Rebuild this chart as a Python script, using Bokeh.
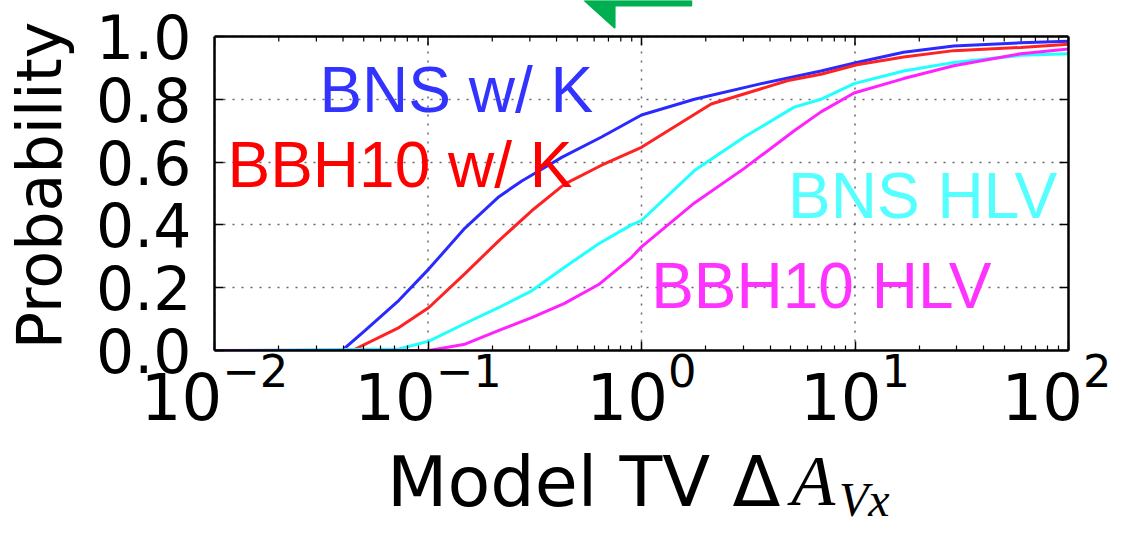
from bokeh.plotting import figure
from bokeh.layouts import column
from bokeh.models import (FixedTicker, LinearAxis, Label, Span, NumeralTickFormatter)
from bokeh.embed import file_html
from bokeh.resources import INLINE

# ---------------- data ----------------
bns_k_x = [0.01, 0.0396, 0.0508, 0.0731, 0.101, 0.149, 0.215, 0.275, 0.367, 0.423,
           0.65, 1.0, 1.77, 3.64, 6.93, 10.2, 16.9, 29.0, 59.7, 100]
bns_k_y = [0, 0, 0.064, 0.16, 0.26, 0.39, 0.49, 0.54, 0.59, 0.615,
           0.68, 0.75, 0.80, 0.85, 0.89, 0.917, 0.95, 0.97, 0.98, 0.985]

bbh_k_x = [0.01, 0.0442, 0.0731, 0.101, 0.149, 0.215, 0.306, 0.436, 0.65, 1.0,
           2.12, 4.86, 6.93, 10.2, 16.9, 29.0, 59.7, 100]
bbh_k_y = [0, 0, 0.073, 0.137, 0.245, 0.35, 0.445, 0.53, 0.59, 0.647,
           0.785, 0.86, 0.88, 0.91, 0.935, 0.955, 0.965, 0.975]

bns_hlv_x = [0.01, 0.0731, 0.101, 0.149, 0.215, 0.306, 0.436, 0.63, 0.897, 1.0,
             1.77, 3.03, 5.19, 6.93, 9.9, 16.9, 29.0, 59.7, 100]
bns_hlv_y = [0, 0.005, 0.03, 0.086, 0.137, 0.19, 0.265, 0.34, 0.40, 0.414,
             0.573, 0.68, 0.775, 0.80, 0.85, 0.89, 0.917, 0.94, 0.945]

bbh_hlv_x = [0.01, 0.101, 0.149, 0.215, 0.306, 0.436, 0.63, 0.897, 1.0,
             1.77, 3.03, 5.19, 6.93, 9.9, 16.9, 29.0, 59.7, 100]
bbh_hlv_y = [0, 0, 0.02, 0.064, 0.105, 0.15, 0.21, 0.296, 0.33,
             0.47, 0.58, 0.70, 0.76, 0.82, 0.866, 0.907, 0.945, 0.96]

series_names = ["BNS w/ K", "BBH10 w/ K", "BNS HLV", "BBH10 HLV"]
x_ticks = [0.01, 0.1, 1, 10, 100]
x_minor_ticks = [m * 10.0 ** e for e in range(-2, 2) for m in range(2, 10)]
y_ticks = [0.0, 0.2, 0.4, 0.6, 0.8, 1.0]
x_label = "Model TV \u0394"
x_label_var = "A"
x_label_sub = "Vx"
y_label = "Probability"

# green arrow fragment above the chart (decoration), x in data units, y above 1.0
arrow_x = [0.542, 0.748, 0.748, 1.71, 1.71]
arrow_y = [1.1146, 1.0287, 1.0987, 1.0987, 1.1146]

# ---------------- layout constants ----------------
W, H = 1111, 517
FL, FR = 212, 1068
MAIN_H = 440          # main chart canvas y 0 .. 440
BOT_H = H - MAIN_H    # strip with the x-axis label
FB = 350              # frame bottom (y = 0); y = 1 sits at canvas y 36
PX_PER_UNIT = 314.0
Y_TOP = FB / PX_PER_UNIT

p = figure(width=W, height=MAIN_H, x_axis_type="log", x_range=(0.01, 100),
           y_range=(0, Y_TOP), output_backend="svg", toolbar_location=None,
           min_border_left=FL, min_border_right=W - FR,
           min_border_top=0, min_border_bottom=MAIN_H - FB)
p.background_fill_color = "white"
p.border_fill_color = "white"
p.outline_line_color = None

xtk = FixedTicker(ticks=x_ticks, minor_ticks=x_minor_ticks)
ytk = FixedTicker(ticks=y_ticks)

p.xaxis[0].ticker = xtk
p.yaxis[0].ticker = ytk
p.yaxis[0].formatter = NumeralTickFormatter(format="0.0")

def style_axis(ax, labels=True, size="60px"):
    ax.axis_line_width = 2.5
    ax.axis_line_color = "black"
    ax.major_tick_in = 9
    ax.major_tick_out = 0
    ax.minor_tick_in = 5
    ax.minor_tick_out = 0
    ax.major_tick_line_width = 1.5
    ax.minor_tick_line_width = 1.2
    ax.major_tick_line_color = "black"
    ax.minor_tick_line_color = "black"
    if labels:
        ax.major_label_text_font = "DejaVu Sans"
        ax.major_label_text_font_size = size
        ax.major_label_text_color = "black"
    else:
        ax.major_label_text_font_size = "6px"
        ax.major_label_text_alpha = 0
        ax.major_label_standoff = 0

style_axis(p.xaxis[0], True, "64px")
p.xaxis[0].major_label_standoff = 0
style_axis(p.yaxis[0], True, "60px")
p.yaxis[0].bounds = (0, 1)
p.yaxis[0].minor_tick_in = 0
p.yaxis[0].major_label_standoff = 23
p.yaxis[0].axis_label = y_label + "\u00a0"
p.yaxis[0].axis_label_text_font = "DejaVu Sans"
p.yaxis[0].axis_label_text_font_size = "62px"
p.yaxis[0].axis_label_text_font_style = "normal"
p.yaxis[0].axis_label_text_color = "black"
p.yaxis[0].axis_label_standoff = 17

right = LinearAxis(ticker=ytk, bounds=(0, 1))
style_axis(right, False)
right.minor_tick_in = 0
p.add_layout(right, "right")

# top border of the frame with inward ticks
p.add_layout(Span(location=1.0, dimension="width", line_color="black", line_width=2.5))
tick_major = 9 / PX_PER_UNIT
tick_minor = 5 / PX_PER_UNIT
p.segment(x0=x_ticks, y0=[1.0] * len(x_ticks), x1=x_ticks,
          y1=[1.0 - tick_major] * len(x_ticks), line_color="black", line_width=1.5)
p.segment(x0=x_minor_ticks, y0=[1.0] * len(x_minor_ticks), x1=x_minor_ticks,
          y1=[1.0 - tick_minor] * len(x_minor_ticks), line_color="black", line_width=1.2)

# grid: horizontal from the y ticks, vertical segments limited to 0..1
p.xgrid.visible = False
p.ygrid.ticker = ytk
p.ygrid.grid_line_color = "black"
p.ygrid.grid_line_alpha = 0.6
p.ygrid.grid_line_width = 1.5
p.ygrid.grid_line_dash = "2 7"
p.segment(x0=x_ticks, y0=[0.0] * len(x_ticks), x1=x_ticks, y1=[1.0] * len(x_ticks),
          line_color="black", line_alpha=0.6, line_width=1.5, line_dash="2 7")

# ---------------- curves ----------------
p.line(bns_k_x, bns_k_y, line_color="#2a2aff", line_width=3)
p.line(bbh_k_x, bbh_k_y, line_color="#ff2222", line_width=3)
p.line(bns_hlv_x, bns_hlv_y, line_color="#22ffff", line_width=3)
p.line(bbh_hlv_x, bbh_hlv_y, line_color="#ff22ff", line_width=3)

# ---------------- green arrow fragment ----------------
p.patch(arrow_x, arrow_y, fill_color="#00b050", line_color="#00b050", line_width=2,
        line_join="round")

# ---------------- in-plot labels ----------------
lab_specs = [
    (series_names[0], 0.031, 0.831, "#3333ff"),
    (series_names[1], 0.0115, 0.592, "#ff0000"),
    (series_names[2], 4.86, 0.493, "#55ffff"),
    (series_names[3], 1.11, 0.207, "#ff33ff"),
]
for txt, lx, ly, col in lab_specs:
    p.add_layout(Label(x=lx, y=ly, text=txt, text_color=col, text_font="Liberation Sans",
                       text_font_size="64px", text_baseline="alphabetic", text_align="left"))

# ---------------- bottom strip with the x-axis label ----------------
bot = figure(width=W, height=BOT_H, x_range=(FL, FR), y_range=(0, BOT_H),
             output_backend="svg", toolbar_location=None,
             x_axis_location=None, y_axis_location=None,
             min_border_left=FL, min_border_right=W - FR, min_border_top=0, min_border_bottom=0)
bot.outline_line_color = None
bot.grid.visible = False
bot.add_layout(Label(x=385, y=36, text=x_label, text_font="DejaVu Sans",
                     text_font_size="70px", text_color="black", text_baseline="alphabetic"))
bot.add_layout(Label(x=790, y=37, text=x_label_var, text_font="Liberation Serif",
                     text_font_style="italic", text_font_size="72px", text_color="black",
                     text_baseline="alphabetic"))
bot.add_layout(Label(x=838, y=18, text=x_label_sub, text_font="Liberation Serif",
                     text_font_style="italic", text_font_size="48px", text_color="black",
                     text_baseline="alphabetic"))

layout = column(p, bot, spacing=0)
open("out.html", "w").write(file_html(layout, INLINE))
